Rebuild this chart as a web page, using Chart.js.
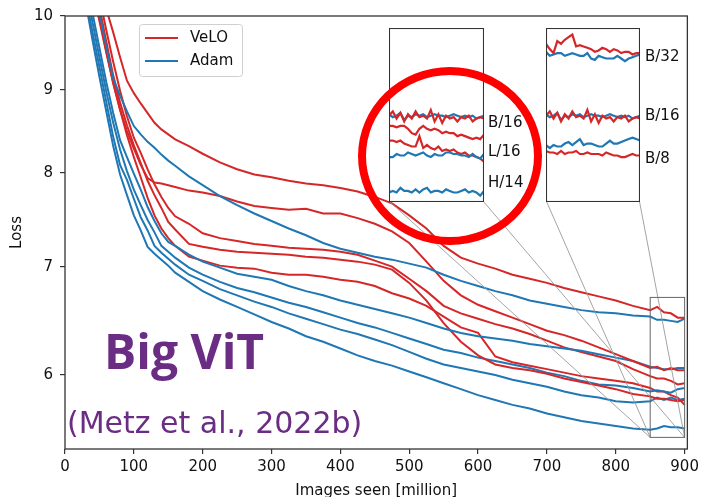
<!DOCTYPE html>
<html>
<head>
<meta charset="utf-8">
<script src="https://cdn.jsdelivr.net/npm/chart.js@4.4.0/dist/chart.umd.min.js"></script>
<style>
  html, body { margin: 0; padding: 0; background: #fff; }
  #wrap { position: relative; width: 703px; height: 497px; overflow: hidden; }
  #main { position: absolute; left: 0; top: 0; }
  .inset { position: absolute; }
  #ring { position: absolute; left: 358px; top: 67px; width: 184px; height: 178px;
          border: 8.4px solid #ff0000; border-radius: 50%; box-sizing: border-box; }
</style>
</head>
<body>
<div id="wrap">
  <canvas id="main" width="703" height="497"></canvas>
  <canvas id="insetA" class="inset"></canvas>
  <canvas id="insetB" class="inset"></canvas>
  <div id="ring"></div>
</div>
<script>
// x positions (million images) shared by every run
const steps = [30, 40, 50, 60, 70, 80, 90, 100, 110, 120, 130, 140, 150, 160, 180, 200, 225, 250, 275, 300,
  325, 350, 375, 400, 425, 450, 475, 500, 525, 550, 575, 600, 625, 650, 675, 700, 725, 750, 775, 800, 825, 850];
// the last stretch is logged more densely
const endSteps = [852, 854, 856, 858, 860, 862, 864, 866, 868, 870, 872, 874, 876, 878, 880, 882, 884, 886, 888,
  890, 892, 894, 896, 898, 900];

const xTicks = [0, 100, 200, 300, 400, 500, 600, 700, 800, 900];
const yTicks = [6, 7, 8, 9, 10];

// loss curves
const veloB32 = [11.16, 10.79, 10.44, 10.10, 9.77, 9.43, 9.12, 8.96, 8.83, 8.71, 8.59, 8.51, 8.45, 8.39, 8.31, 8.22,
  8.12, 8.04, 7.98, 7.95, 7.91, 7.88, 7.86, 7.83, 7.79, 7.73, 7.66, 7.53, 7.39, 7.21, 7.09, 7.03, 6.98, 6.92, 6.88,
  6.84, 6.79, 6.75, 6.71, 6.67, 6.62, 6.58];
const veloB32End = [6.54, 6.51, 6.60, 6.58, 6.61, 6.63, 6.65, 6.56, 6.57, 6.56, 6.55, 6.54, 6.52, 6.53, 6.55, 6.54,
  6.52, 6.54, 6.53, 6.51, 6.52, 6.52, 6.50, 6.51, 6.51];
const adamB32 = [11.08, 10.56, 10.05, 9.57, 9.15, 8.93, 8.73, 8.55, 8.45, 8.36, 8.29, 8.21, 8.14, 8.08, 7.96, 7.86,
  7.74, 7.64, 7.55, 7.47, 7.39, 7.32, 7.24, 7.18, 7.14, 7.10, 7.07, 7.03, 6.99, 6.92, 6.86, 6.81, 6.76, 6.72, 6.67,
  6.64, 6.61, 6.58, 6.56, 6.55, 6.53, 6.52];
const adamB32End = [6.49, 6.50, 6.51, 6.51, 6.49, 6.50, 6.51, 6.50, 6.49, 6.49, 6.51, 6.47, 6.46, 6.49, 6.48, 6.47,
  6.47, 6.47, 6.49, 6.47, 6.45, 6.47, 6.48, 6.49, 6.50];

const veloB16 = [11.01, 10.49, 9.98, 9.51, 9.09, 8.75, 8.49, 8.28, 8.09, 7.94, 7.89, 7.88, 7.86, 7.84, 7.80, 7.78,
  7.74, 7.68, 7.63, 7.61, 7.59, 7.60, 7.55, 7.55, 7.50, 7.44, 7.36, 7.24, 7.05, 6.86, 6.72, 6.63, 6.57, 6.51, 6.45,
  6.39, 6.35, 6.30, 6.24, 6.18, 6.12, 6.06];
const veloB16End = [6.09, 6.04, 6.08, 6.02, 6.07, 6.04, 6.09, 6.05, 6.06, 6.04, 6.10, 6.02, 6.07, 6.01, 6.06, 6.04,
  6.05, 6.02, 6.05, 6.04, 6.06, 6.02, 6.04, 6.05, 6.04];
const adamB16 = [10.55, 10.04, 9.56, 9.10, 8.71, 8.38, 8.18, 7.99, 7.81, 7.62, 7.47, 7.34, 7.25, 7.21, 7.12, 7.05,
  6.99, 6.93, 6.90, 6.87, 6.81, 6.76, 6.72, 6.67, 6.63, 6.59, 6.55, 6.51, 6.46, 6.41, 6.37, 6.34, 6.32, 6.30, 6.27,
  6.25, 6.23, 6.21, 6.18, 6.15, 6.12, 6.07];
const adamB16End = [6.05, 6.06, 6.08, 6.03, 6.06, 6.05, 6.07, 6.06, 6.07, 6.05, 6.06, 6.07, 6.06, 6.06, 6.05, 6.06,
  6.07, 6.06, 6.05, 6.06, 6.05, 6.06, 6.04, 6.05, 6.06];

const veloB8 = [11.17, 10.64, 10.13, 9.64, 9.19, 8.84, 8.56, 8.32, 8.11, 7.91, 7.75, 7.61, 7.46, 7.38, 7.23, 7.20,
  7.17, 7.15, 7.14, 7.13, 7.12, 7.10, 7.09, 7.07, 7.05, 7.02, 6.97, 6.84, 6.67, 6.46, 6.29, 6.17, 6.09, 6.06, 6.04,
  6.01, 5.97, 5.94, 5.91, 5.88, 5.84, 5.82];
const veloB8End = [5.81, 5.81, 5.80, 5.82, 5.80, 5.81, 5.81, 5.82, 5.80, 5.80, 5.81, 5.80, 5.80, 5.80, 5.79, 5.81,
  5.80, 5.79, 5.79, 5.78, 5.78, 5.79, 5.80, 5.79, 5.79];
const adamB8 = [10.43, 9.91, 9.43, 8.98, 8.59, 8.27, 8.02, 7.81, 7.64, 7.48, 7.35, 7.21, 7.15, 7.09, 6.99, 6.92,
  6.85, 6.79, 6.75, 6.70, 6.65, 6.61, 6.56, 6.51, 6.46, 6.42, 6.37, 6.32, 6.27, 6.22, 6.19, 6.15, 6.12, 6.09, 6.06,
  6.02, 5.99, 5.95, 5.92, 5.91, 5.89, 5.86];
const adamB8End = [5.84, 5.86, 5.85, 5.85, 5.87, 5.88, 5.86, 5.88, 5.90, 5.86, 5.87, 5.87, 5.86, 5.85, 5.85, 5.87,
  5.89, 5.87, 5.87, 5.88, 5.89, 5.90, 5.91, 5.90, 5.89];

const veloL16 = [11.33, 10.79, 10.27, 9.80, 9.37, 8.99, 8.67, 8.41, 8.23, 8.04, 7.87, 7.73, 7.61, 7.52, 7.44, 7.34,
  7.29, 7.26, 7.23, 7.21, 7.19, 7.18, 7.17, 7.15, 7.12, 7.06, 7.00, 6.88, 6.76, 6.62, 6.55, 6.50, 6.45, 6.41, 6.36,
  6.30, 6.24, 6.20, 6.16, 6.12, 6.05, 5.99];
const veloL16End = [5.99, 5.98, 5.99, 5.99, 5.97, 5.94, 5.93, 5.97, 5.99, 5.97, 5.96, 5.97, 5.96, 5.94, 5.95, 5.94,
  5.94, 5.92, 5.93, 5.92, 5.91, 5.90, 5.91, 5.90, 5.93];
const adamL16 = [10.29, 9.77, 9.30, 8.85, 8.42, 8.09, 7.92, 7.71, 7.51, 7.37, 7.21, 7.14, 7.08, 7.02, 6.92, 6.86,
  6.78, 6.72, 6.66, 6.61, 6.55, 6.50, 6.45, 6.40, 6.36, 6.31, 6.26, 6.20, 6.14, 6.09, 6.06, 6.03, 6.00, 5.96, 5.93,
  5.90, 5.86, 5.83, 5.81, 5.78, 5.77, 5.78];
const adamL16End = [5.78, 5.80, 5.79, 5.79, 5.81, 5.80, 5.79, 5.80, 5.81, 5.79, 5.78, 5.80, 5.79, 5.79, 5.81, 5.81,
  5.80, 5.80, 5.79, 5.79, 5.78, 5.80, 5.78, 5.77, 5.80];

const veloH14 = [10.86, 10.38, 9.93, 9.49, 9.09, 8.75, 8.44, 8.18, 7.95, 7.72, 7.53, 7.39, 7.29, 7.21, 7.10, 7.06,
  7.01, 6.99, 6.98, 6.94, 6.92, 6.92, 6.90, 6.87, 6.85, 6.81, 6.74, 6.69, 6.62, 6.52, 6.42, 6.37, 6.16, 6.11, 6.08,
  6.05, 6.02, 5.99, 5.97, 5.95, 5.93, 5.89];
const veloH14End = [5.89, 5.88, 5.89, 5.87, 5.86, 5.85, 5.85, 5.92, 5.84, 5.86, 5.84, 5.83, 5.85, 5.82, 5.83, 5.82,
  5.83, 5.81, 5.80, 5.81, 5.79, 5.79, 5.78, 5.77, 5.75];
const adamH14 = [10.20, 9.66, 9.17, 8.73, 8.31, 7.98, 7.75, 7.53, 7.37, 7.20, 7.13, 7.07, 7.01, 6.94, 6.85, 6.76,
  6.68, 6.61, 6.54, 6.47, 6.41, 6.34, 6.29, 6.23, 6.17, 6.12, 6.08, 6.03, 5.98, 5.93, 5.88, 5.83, 5.79, 5.75, 5.72,
  5.68, 5.65, 5.62, 5.60, 5.58, 5.56, 5.55];
const adamH14End = [5.56, 5.55, 5.58, 5.56, 5.56, 5.55, 5.57, 5.55, 5.57, 5.58, 5.55, 5.56, 5.56, 5.55, 5.57, 5.56,
  5.55, 5.55, 5.56, 5.57, 5.55, 5.56, 5.55, 5.53, 5.56];

const models = ['B/32', 'B/16', 'B/8', 'L/16', 'H/14'];
const runs = {
  'B/32': { velo: [veloB32, veloB32End], adam: [adamB32, adamB32End] },
  'B/16': { velo: [veloB16, veloB16End], adam: [adamB16, adamB16End] },
  'B/8':  { velo: [veloB8, veloB8End],   adam: [adamB8, adamB8End] },
  'L/16': { velo: [veloL16, veloL16End], adam: [adamL16, adamL16End] },
  'H/14': { velo: [veloH14, veloH14End], adam: [adamH14, adamH14End] }
};

// window shown magnified in the two insets
const zoomX = [850, 900];
const zoomY = [5.49, 6.70];
const insetBoxes = [
  { id: 'insetA', left: 389, top: 28, width: 95, height: 174, models: ['B/16', 'L/16', 'H/14'] },
  { id: 'insetB', left: 546, top: 28, width: 94, height: 174, models: ['B/32', 'B/16', 'B/8'] }
];
const insetLabels = [
  { text: 'B/16', x: 488, y: 123 }, { text: 'L/16', x: 488, y: 152 }, { text: 'H/14', x: 488, y: 183 },
  { text: 'B/32', x: 645, y: 57 }, { text: 'B/16', x: 645, y: 116 }, { text: 'B/8', x: 645, y: 159 }
];

const RED = '#d62728';
const BLUE = '#1f77b4';
const FONT = "'DejaVu Sans', sans-serif";

Chart.defaults.font.family = FONT;
Chart.defaults.font.size = 15;
Chart.defaults.color = '#111';

// every: keep one of every n logged points in the dense tail (main plot is too small for all of them)
function points(pair, every) {
  const [head, tail] = pair;
  const tailPts = endSteps.map((x, i) => ({ x, y: tail[i] }))
    .filter((p, i) => (i + 1) % every === 0);
  return steps.map((x, i) => ({ x, y: head[i] })).concat(tailPts);
}

function buildDatasets(list, width, every) {
  const out = [];
  list.forEach(m => {
    out.push({ label: 'VeLO', data: points(runs[m].velo, every), borderColor: RED, borderWidth: width });
    out.push({ label: 'Adam', data: points(runs[m].adam, every), borderColor: BLUE, borderWidth: width });
  });
  return out;
}

const decor = {
  id: 'decor',
  afterDatasetsDraw(chart) {
    const { ctx, chartArea: a, scales: { x, y } } = chart;
    ctx.save();

    // zoom window and the guide lines to the insets
    const zl = x.getPixelForValue(zoomX[0]), zr = x.getPixelForValue(zoomX[1]);
    const zt = y.getPixelForValue(zoomY[1]), zb = y.getPixelForValue(zoomY[0]);
    ctx.strokeStyle = '#9a9a9a';
    ctx.lineWidth = 0.9;
    insetBoxes.forEach(b => {
      const bottom = b.top + b.height - 0.5;
      ctx.beginPath();
      ctx.moveTo(b.left + 0.5, bottom); ctx.lineTo(zl, zb);
      ctx.moveTo(b.left + b.width - 0.5, bottom); ctx.lineTo(zr, zb);
      ctx.stroke();
    });
    ctx.strokeStyle = '#666';
    ctx.lineWidth = 1;
    ctx.strokeRect(zl, zt, zr - zl, zb - zt);

    // full frame around the plot
    ctx.strokeStyle = '#333';
    ctx.lineWidth = 1.3;
    ctx.strokeRect(a.left, a.top, a.right - a.left, a.bottom - a.top);

    // legend
    ctx.fillStyle = 'rgba(255,255,255,0.85)';
    ctx.strokeStyle = '#cfcfcf';
    ctx.lineWidth = 1;
    ctx.beginPath();
    ctx.roundRect(139.5, 24.5, 103, 52, 3);
    ctx.fill();
    ctx.stroke();
    [['VeLO', RED, 38], ['Adam', BLUE, 61]].forEach(([txt, col, ly]) => {
      ctx.strokeStyle = col;
      ctx.lineWidth = 2;
      ctx.beginPath();
      ctx.moveTo(145, ly); ctx.lineTo(178, ly);
      ctx.stroke();
      ctx.fillStyle = '#111';
      ctx.font = '15px ' + FONT;
      ctx.textBaseline = 'middle';
      ctx.fillText(txt, 190, ly);
    });

    // model names beside the insets
    ctx.fillStyle = '#111';
    ctx.font = '15px ' + FONT;
    ctx.textBaseline = 'middle';
    insetLabels.forEach(l => ctx.fillText(l.text, l.x, l.y));

    // caption
    ctx.fillStyle = '#6b2d84';
    ctx.textBaseline = 'alphabetic';
    ctx.font = "bold 48px 'Open Sans', sans-serif";
    ctx.fillText('Big ViT', 104, 369);
    ctx.font = '30px ' + FONT;
    ctx.fillText('(Metz et al., 2022b)', 67, 433);
    ctx.restore();
  }
};

new Chart(document.getElementById('main'), {
  type: 'line',
  data: { datasets: buildDatasets(models, 2, 5) },
  options: {
    responsive: false,
    animation: false,
    devicePixelRatio: 1,
    parsing: false,
    elements: { point: { radius: 0 }, line: { tension: 0 } },
    layout: { padding: { top: 15, right: 15, left: 0, bottom: 0 } },
    plugins: { legend: { display: false }, tooltip: { enabled: false } },
    scales: {
      x: {
        type: 'linear', min: 0, max: 904,
        afterBuildTicks: s => { s.ticks = xTicks.map(v => ({ value: v })); },
        afterFit: s => { s.height = 48; },
        ticks: { padding: 4, maxRotation: 0, color: '#111' },
        grid: { drawOnChartArea: false, tickLength: 5, color: '#333', lineWidth: 1.2 },
        border: { display: false },
        title: { display: true, text: 'Images seen [million]', font: { size: 15, lineHeight: 1 },
                 padding: { top: 0, bottom: -2 }, color: '#111' }
      },
      y: {
        type: 'logarithmic', min: 5.4, max: 10,
        afterBuildTicks: s => { s.ticks = yTicks.map(v => ({ value: v })); },
        afterFit: s => { s.width = 65; },
        ticks: { padding: 7, color: '#111', callback: v => String(v) },
        grid: { drawOnChartArea: false, tickLength: 5, color: '#333', lineWidth: 1.2 },
        border: { display: false },
        title: { display: true, text: 'Loss', font: { size: 15, lineHeight: 1 },
                 padding: { top: 10, bottom: 0 }, color: '#111' }
      }
    }
  },
  plugins: [decor]
});

// magnified views of the end of training
const insetFrame = {
  id: 'insetFrame',
  beforeDraw(chart) {
    const { ctx, width, height } = chart;
    ctx.save();
    ctx.fillStyle = '#fff';
    ctx.fillRect(0, 0, width, height);
    ctx.restore();
  },
  afterDraw(chart) {
    const { ctx, width, height } = chart;
    ctx.save();
    ctx.strokeStyle = '#333';
    ctx.lineWidth = 1.1;
    ctx.strokeRect(0.5, 0.5, width - 1, height - 1);
    ctx.restore();
  }
};

insetBoxes.forEach(b => {
  const el = document.getElementById(b.id);
  el.width = b.width;
  el.height = b.height;
  el.style.left = b.left + 'px';
  el.style.top = b.top + 'px';
  new Chart(el, {
    type: 'line',
    data: { datasets: buildDatasets(b.models, 2.2, 1) },
    options: {
      responsive: false,
      animation: false,
      devicePixelRatio: 1,
      parsing: false,
      elements: { point: { radius: 0 }, line: { tension: 0 } },
      layout: { padding: 0 },
      plugins: { legend: { display: false }, tooltip: { enabled: false } },
      scales: {
        x: { type: 'linear', display: false, min: zoomX[0], max: zoomX[1] },
        y: { type: 'logarithmic', display: false, min: zoomY[0], max: zoomY[1] }
      }
    },
    plugins: [insetFrame]
  });
});
</script>
</body>
</html>
